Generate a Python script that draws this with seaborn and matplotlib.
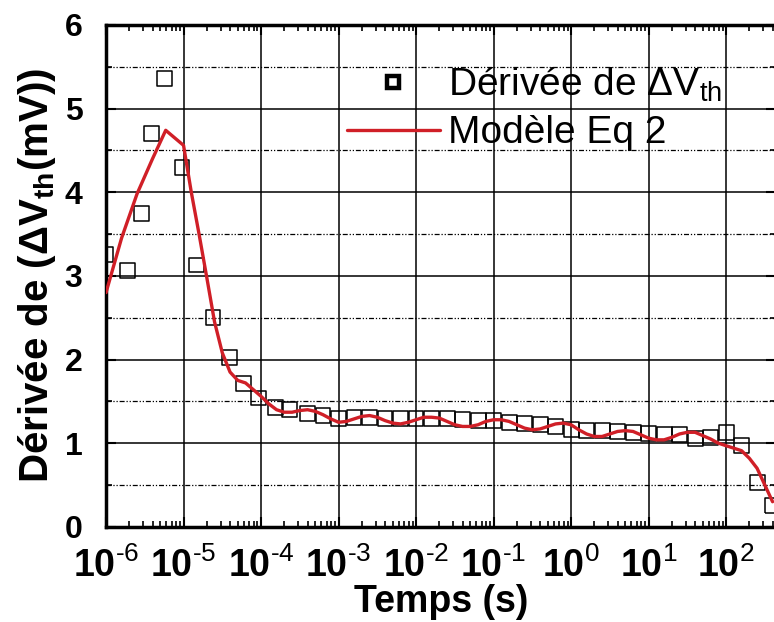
import matplotlib
matplotlib.use("Agg")
import matplotlib.pyplot as plt
import matplotlib.ticker as mticker
import numpy as np
import pandas as pd
import seaborn as sns

# measured points (log10 of time in s, derivative in mV)
meas_logt = [-6.0, -5.72, -5.54, -5.41, -5.24, -5.02, -4.83, -4.62, -4.41, -4.23,
             -4.03, -3.81, -3.63, -3.4, -3.2, -3.0, -2.8, -2.6, -2.4, -2.2,
             -2.0, -1.8, -1.6, -1.4, -1.2, -1.0, -0.8, -0.6, -0.4, -0.2,
             0.0, 0.2, 0.4, 0.6, 0.8, 1.0, 1.2, 1.4, 1.6, 1.8,
             2.0, 2.2, 2.4, 2.6]
meas_val = [3.25, 3.06, 3.75, 4.70, 5.36, 4.29, 3.13, 2.50, 2.02, 1.71,
            1.54, 1.43, 1.40, 1.36, 1.33, 1.30, 1.31, 1.31, 1.30, 1.29,
            1.29, 1.30, 1.29, 1.28, 1.27, 1.27, 1.25, 1.24, 1.22, 1.20,
            1.16, 1.15, 1.15, 1.14, 1.13, 1.12, 1.11, 1.10, 1.06, 1.07,
            1.13, 0.97, 0.53, 0.25]

# model curve
model_logt = [-6.0, -5.8, -5.6, -5.4, -5.23, -5.0, -4.9, -4.8, -4.7, -4.6,
              -4.5, -4.4, -4.3, -4.2, -4.1, -4.0, -3.9, -3.8, -3.7, -3.6,
              -3.5, -3.4, -3.3, -3.2, -3.1, -3.0, -2.9, -2.8, -2.7, -2.6,
              -2.5, -2.4, -2.3, -2.2, -2.1, -2.0, -1.9, -1.8, -1.7, -1.6,
              -1.5, -1.4, -1.3, -1.2, -1.1, -1.0, -0.9, -0.8, -0.7, -0.6,
              -0.5, -0.4, -0.3, -0.2, -0.1, 0.0, 0.1, 0.2, 0.3, 0.4,
              0.5, 0.6, 0.7, 0.8, 0.9, 1.0, 1.1, 1.2, 1.3, 1.4,
              1.5, 1.6, 1.7, 1.8, 1.9, 2.0, 2.1, 2.2, 2.3, 2.4,
              2.5, 2.6]
model_val = [2.80, 3.45, 3.98, 4.40, 4.74, 4.56, 4.00, 3.50, 2.98, 2.45,
             2.08, 1.85, 1.75, 1.72, 1.64, 1.56, 1.47, 1.40, 1.37, 1.37,
             1.39, 1.40, 1.38, 1.34, 1.29, 1.25, 1.26, 1.29, 1.32, 1.33,
             1.31, 1.27, 1.24, 1.23, 1.25, 1.28, 1.31, 1.31, 1.30, 1.26,
             1.22, 1.20, 1.20, 1.22, 1.26, 1.28, 1.28, 1.26, 1.22, 1.18,
             1.16, 1.17, 1.20, 1.23, 1.24, 1.22, 1.16, 1.11, 1.08, 1.08,
             1.11, 1.14, 1.15, 1.14, 1.10, 1.06, 1.04, 1.04, 1.07, 1.11,
             1.13, 1.13, 1.09, 1.05, 1.00, 0.97, 0.94, 0.91, 0.82, 0.70,
             0.50, 0.30]

meas = pd.DataFrame({"t": 10 ** np.array(meas_logt), "v": meas_val})
model = pd.DataFrame({"t": 10 ** np.array(model_logt), "v": model_val})

sns.set_style("ticks")
plt.rcParams["font.family"] = ["Liberation Sans", "DejaVu Sans"]
plt.rcParams["mathtext.fontset"] = "custom"
plt.rcParams["mathtext.rm"] = "Liberation Sans"
plt.rcParams["mathtext.bf"] = "Liberation Sans:bold"
plt.rcParams["mathtext.default"] = "regular"
plt.rcParams["axes.unicode_minus"] = False
plt.rcParams["text.color"] = "black"
plt.rcParams["axes.labelcolor"] = "black"

red = "#d01f27"


def decade_label(x, pos):
    e = int(round(np.log10(x)))
    return "10$^{\\text{%d}}$" % e


fig = plt.figure(figsize=(7.74, 6.22), dpi=100)
ax = fig.add_axes([0.137, 0.153, 0.8656, 0.807])

sns.scatterplot(data=meas, x="t", y="v", marker="s", s=115,
                facecolor="none", edgecolor="black", linewidth=1.1,
                ax=ax, zorder=3, legend=False)
sns.lineplot(data=model, x="t", y="v", color=red, linewidth=2.4,
             sort=False, estimator=None, ax=ax, zorder=4, legend=False)

ax.set_xscale("log")
ax.set_xlim(1e-6, 4.41e2)
ax.set_ylim(0, 6)

ax.xaxis.set_major_locator(mticker.LogLocator(base=10, numticks=20))
ax.xaxis.set_major_formatter(mticker.FuncFormatter(decade_label))
ax.xaxis.set_minor_locator(mticker.LogLocator(base=10, subs=np.arange(2, 10), numticks=20))
ax.xaxis.set_minor_formatter(mticker.NullFormatter())
ax.yaxis.set_major_locator(mticker.MultipleLocator(1))
ax.yaxis.set_minor_locator(mticker.MultipleLocator(0.5))

ax.grid(which="major", color="black", linewidth=1.1)
ax.grid(which="minor", axis="y", color="black", linewidth=0.9,
        linestyle=(0, (4, 1.5, 1, 1.5, 1, 1.5)))

ax.tick_params(which="both", direction="in", top=True, right=True, colors="black")
ax.tick_params(which="major", length=7, width=1.5)
ax.tick_params(which="minor", length=4, width=1.2)
ax.tick_params(axis="x", which="major", labelsize=27, pad=15)
ax.tick_params(axis="y", which="major", labelsize=23, pad=17)
for lab in ax.get_xticklabels() + ax.get_yticklabels():
    lab.set_fontweight("bold")

for sp in ax.spines.values():
    sp.set_linewidth(2.5)
    sp.set_color("black")

ax.set_xlabel("Temps (s)", fontsize=27, fontweight="bold", labelpad=-1)
ax.set_ylabel("Dérivée de ($\\Delta$V$_{th}$(mV))", fontsize=29,
              fontweight="bold", labelpad=5)

h1 = plt.Line2D([], [], marker="s", linestyle="none", markersize=8.5,
                markerfacecolor="white", markeredgecolor="black",
                markeredgewidth=3.2)
h2 = plt.Line2D([], [], color=red, linewidth=2.4)
leg = ax.legend([h1, h2], ["Dérivée de ΔV$_{th}$", "Modèle Eq 2"],
                loc="upper left", bbox_to_anchor=(0.336, 0.95), frameon=False,
                fontsize=28, handlelength=2.4, handletextpad=0.2,
                labelspacing=0.3, borderaxespad=0)
leg.set_zorder(5)

fig.savefig("out.png", dpi=100)
